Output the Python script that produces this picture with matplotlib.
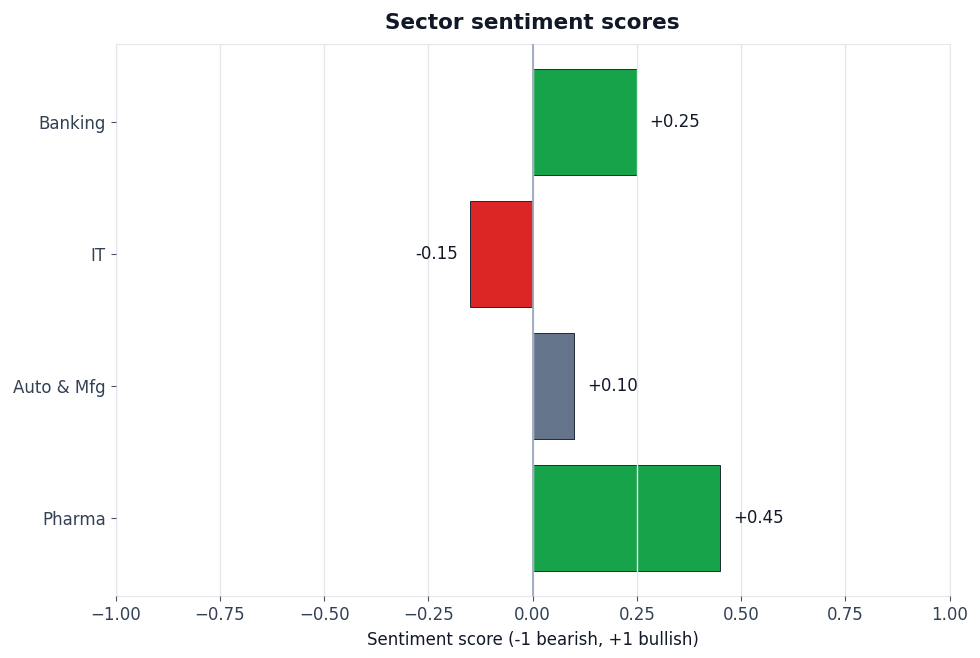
import matplotlib
matplotlib.use("Agg")
import matplotlib.pyplot as plt

sectors = ["Banking", "IT", "Auto & Mfg", "Pharma"]
scores = [0.25, -0.15, 0.10, 0.45]
bar_colors = ["#16a34a", "#dc2626", "#64748b", "#16a34a"]
xticks = [-1.0, -0.75, -0.5, -0.25, 0.0, 0.25, 0.5, 0.75, 1.0]

fig, ax = plt.subplots(figsize=(9.8, 6.58), dpi=100)
fig.subplots_adjust(left=0.118, right=0.969, top=0.933, bottom=0.094)

ypos = list(range(len(sectors)))[::-1]
ax.barh(ypos, scores, height=0.8, color=bar_colors, edgecolor="#1f2937",
        linewidth=0.7, zorder=1)
ax.axvline(0, color="#94a3b8", linewidth=1.2, zorder=3)

for y, v in zip(ypos, scores):
    off = 0.03 if v >= 0 else -0.03
    ax.text(v + off, y, f"{v:+.2f}", va="center",
            ha="left" if v >= 0 else "right", fontsize=12, color="#111827")

ax.set_xlim(-1, 1)
ax.set_xticks(xticks)
ax.set_yticks(ypos)
ax.set_yticklabels(sectors)
ax.grid(axis="x", color="#e5e7eb", linewidth=1.0, zorder=2)
ax.set_axisbelow(False)
ax.tick_params(colors="#475569", labelcolor="#334155", labelsize=12)
for s in ax.spines.values():
    s.set_color("#e5e7eb")
ax.set_xlabel("Sentiment score (-1 bearish, +1 bullish)", fontsize=12,
              color="#111827", labelpad=5)
ax.set_title("Sector sentiment scores", fontsize=15.5, fontweight="bold",
             color="#111827", pad=11)

fig.savefig("out.png", dpi=100)
